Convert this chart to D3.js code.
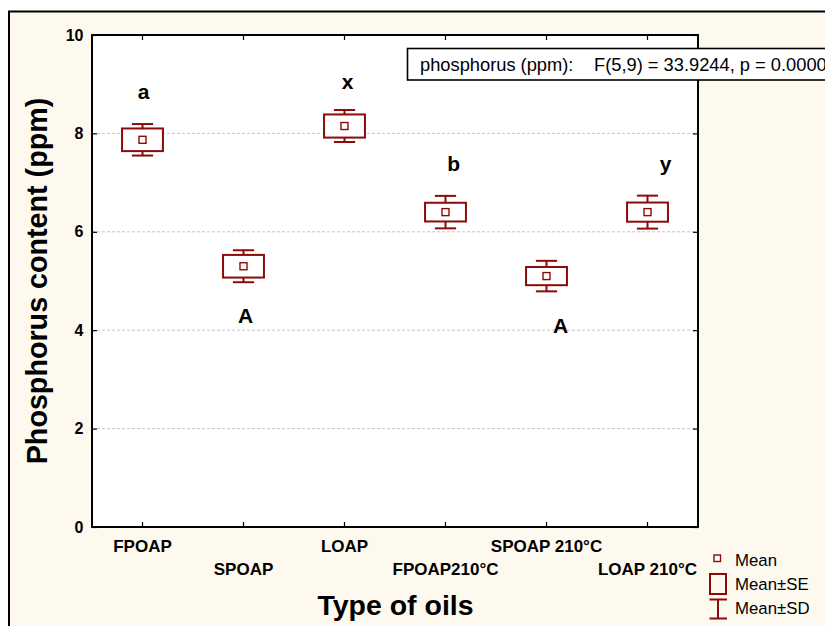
<!DOCTYPE html>
<html>
<head>
<meta charset="utf-8">
<script src="https://cdn.jsdelivr.net/npm/d3@7"></script>
<style>
  html, body { margin: 0; padding: 0; background: #ffffff; }
  svg { display: block; }
  text { font-family: "Liberation Sans", Arial, sans-serif; }
</style>
</head>
<body>
<svg id="chart" width="825" height="626"></svg>
<script>
// Phosphorus content per oil type: mean, standard error, standard deviation
const categories = ["FPOAP", "SPOAP", "LOAP", "FPOAP210°C", "SPOAP 210°C", "LOAP 210°C"];
const means = [7.87, 5.30, 8.15, 6.40, 5.10, 6.40];
const stdErrors = [0.23, 0.23, 0.235, 0.19, 0.185, 0.195];
const stdDevs = [0.32, 0.325, 0.325, 0.33, 0.31, 0.335];

// Homogeneous-group letters (category position, value level)
const groupLabels = ["a", "A", "x", "b", "A", "y"];
const groupLabelX = [0.01, 1.02, 2.03, 3.08, 4.14, 5.18];
const groupLabelY = [8.69, 4.15, 8.90, 7.24, 3.94, 7.24];

const yTicks = [0, 2, 4, 6, 8, 10];
const statText = ["phosphorus (ppm):", "F(5,9) = 33.9244, p = 0.0000"];
const legendLabels = ["Mean", "Mean±SE", "Mean±SD"];

const markColor = "#8b0a0a";
const svg = d3.select("#chart");

// Outer panel
svg.append("rect")
  .attr("x", 9).attr("y", 11.5)
  .attr("width", 900).attr("height", 700)
  .attr("fill", "#fdf9ef")
  .attr("stroke", "#000").attr("stroke-width", 2);

const plot = { left: 92, top: 35, right: 698, bottom: 527 };

const x = d3.scaleBand().domain(categories).range([plot.left, plot.right]).padding(0);
const xPos = d3.scaleLinear().domain([-0.5, categories.length - 0.5]).range([plot.left, plot.right]);
const y = d3.scaleLinear().domain([0, 10]).range([plot.bottom, plot.top]);

// Plot background
svg.append("rect")
  .attr("x", plot.left).attr("y", plot.top)
  .attr("width", plot.right - plot.left).attr("height", plot.bottom - plot.top)
  .attr("fill", "#ffffff");

// Horizontal grid
svg.append("g").selectAll("line")
  .data(yTicks.filter(t => t > 0 && t < 10))
  .join("line")
  .attr("x1", plot.left).attr("x2", plot.right)
  .attr("y1", d => y(d)).attr("y2", d => y(d))
  .attr("stroke", "#c4c4c4").attr("stroke-width", 1)
  .attr("stroke-dasharray", "3,2");

// Axes with inward ticks
const axisLeft = svg.append("g")
  .attr("transform", `translate(${plot.left},0)`)
  .call(d3.axisLeft(y).tickValues(yTicks).tickSizeInner(-5).tickSizeOuter(0).tickPadding(8.5));
axisLeft.select(".domain").remove();
axisLeft.selectAll("text")
  .attr("font-size", 16).attr("font-weight", "bold").attr("fill", "#000")
  .style("font-family", "'Liberation Sans', Arial, sans-serif");

const axisRight = svg.append("g")
  .attr("transform", `translate(${plot.right},0)`)
  .call(d3.axisRight(y).tickValues(yTicks).tickSizeInner(-5).tickSizeOuter(0).tickFormat(""));
axisRight.select(".domain").remove();

const axisTop = svg.append("g")
  .attr("transform", `translate(0,${plot.top})`)
  .call(d3.axisTop(x).tickSizeInner(-5).tickSizeOuter(0).tickFormat(""));
axisTop.select(".domain").remove();

const axisBottom = svg.append("g")
  .attr("transform", `translate(0,${plot.bottom})`)
  .call(d3.axisBottom(x).tickSizeInner(-5).tickSizeOuter(0));
axisBottom.select(".domain").remove();
axisBottom.selectAll("text")
  .attr("font-size", 17).attr("font-weight", "bold").attr("fill", "#000")
  .style("font-family", "'Liberation Sans', Arial, sans-serif")
  .attr("dy", null)
  .attr("y", (d, i) => (i % 2 === 0 ? 24.5 : 48));
svg.selectAll(".tick line").attr("stroke", "#000").attr("stroke-width", 1.2);

// Plot frame
svg.append("rect")
  .attr("x", plot.left).attr("y", plot.top)
  .attr("width", plot.right - plot.left).attr("height", plot.bottom - plot.top)
  .attr("fill", "none").attr("stroke", "#000").attr("stroke-width", 2);

// Box-whisker marks
const boxW = x.bandwidth() * 0.405;
const capW = x.bandwidth() * 0.21;
const meanSize = 7;
const groups = svg.append("g").selectAll("g")
  .data(categories.map((c, i) => ({ c, m: means[i], se: stdErrors[i], sd: stdDevs[i] })))
  .join("g")
  .attr("transform", d => `translate(${x(d.c) + x.bandwidth() / 2},0)`);

groups.append("line")
  .attr("x1", 0).attr("x2", 0)
  .attr("y1", d => y(d.m + d.sd)).attr("y2", d => y(d.m - d.sd))
  .attr("stroke", markColor).attr("stroke-width", 2);
groups.append("line")
  .attr("x1", -capW / 2).attr("x2", capW / 2)
  .attr("y1", d => y(d.m + d.sd)).attr("y2", d => y(d.m + d.sd))
  .attr("stroke", markColor).attr("stroke-width", 2);
groups.append("line")
  .attr("x1", -capW / 2).attr("x2", capW / 2)
  .attr("y1", d => y(d.m - d.sd)).attr("y2", d => y(d.m - d.sd))
  .attr("stroke", markColor).attr("stroke-width", 2);
groups.append("rect")
  .attr("x", -boxW / 2).attr("width", boxW)
  .attr("y", d => y(d.m + d.se)).attr("height", d => y(d.m - d.se) - y(d.m + d.se))
  .attr("fill", "#fff").attr("stroke", markColor).attr("stroke-width", 2);
groups.append("rect")
  .attr("x", -meanSize / 2).attr("width", meanSize)
  .attr("y", d => y(d.m) - meanSize / 2).attr("height", meanSize)
  .attr("fill", "#fff").attr("stroke", markColor).attr("stroke-width", 1.4);

// Group letters
svg.append("g").selectAll("text")
  .data(groupLabels.map((t, i) => ({ t, px: groupLabelX[i], py: groupLabelY[i] })))
  .join("text")
  .attr("x", d => xPos(d.px)).attr("y", d => y(d.py))
  .attr("text-anchor", "middle")
  .attr("font-size", 21).attr("font-weight", "bold").attr("fill", "#000")
  .text(d => d.t);

// Axis titles
svg.append("text")
  .attr("transform", `translate(46.5,${(plot.top + plot.bottom) / 2}) rotate(-90)`)
  .attr("text-anchor", "middle")
  .attr("font-size", 28.7).attr("font-weight", "bold").attr("fill", "#000")
  .text("Phosphorus content (ppm)");
svg.append("text")
  .attr("x", 395.5).attr("y", 615)
  .attr("text-anchor", "middle")
  .attr("font-size", 28.5).attr("font-weight", "bold").attr("fill", "#000")
  .text("Type of oils");

// ANOVA statistic box
svg.append("rect")
  .attr("x", 407.5).attr("y", 48.5)
  .attr("width", 500).attr("height", 31.5)
  .attr("fill", "#fff").attr("stroke", "#000").attr("stroke-width", 1.6);
svg.append("text").attr("x", 420).attr("y", 70.5)
  .attr("font-size", 18.3).attr("fill", "#000").text(statText[0]);
svg.append("text").attr("x", 594).attr("y", 70.5)
  .attr("font-size", 18.3).attr("fill", "#000").text(statText[1]);

// Legend
const lg = svg.append("g");
lg.append("rect")
  .attr("x", 714).attr("y", 555).attr("width", 6.5).attr("height", 6.5)
  .attr("fill", "#fff").attr("stroke", markColor).attr("stroke-width", 1.4);
lg.append("rect")
  .attr("x", 710).attr("y", 574).attr("width", 16).attr("height", 20)
  .attr("fill", "none").attr("stroke", markColor).attr("stroke-width", 2);
lg.append("line").attr("x1", 718).attr("x2", 718).attr("y1", 599.5).attr("y2", 618.5)
  .attr("stroke", markColor).attr("stroke-width", 2);
lg.append("line").attr("x1", 709.5).attr("x2", 727).attr("y1", 599.5).attr("y2", 599.5)
  .attr("stroke", markColor).attr("stroke-width", 2);
lg.append("line").attr("x1", 709.5).attr("x2", 727).attr("y1", 618.5).attr("y2", 618.5)
  .attr("stroke", markColor).attr("stroke-width", 2);
lg.selectAll("text")
  .data(legendLabels)
  .join("text")
  .attr("x", 735).attr("y", (d, i) => 566 + i * 24.2)
  .attr("font-size", 16.8).attr("fill", "#000")
  .text(d => d);
</script>
</body>
</html>
